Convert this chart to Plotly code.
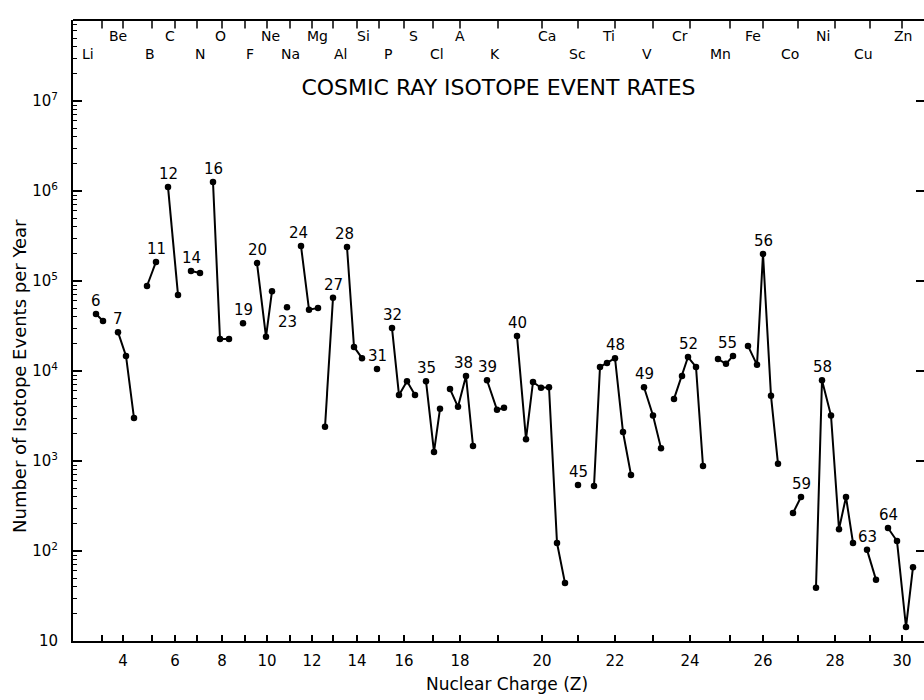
import math
import plotly.graph_objects as go

# ---- isotope axis: position of each element (Z = 3 ... 30) along the horizontal axis
z_values = list(range(3, 31))
z_tick_pos = [29, 50, 79, 102, 124, 149, 172, 194, 217, 239, 260, 284, 306, 331,
              360, 387, 425, 469, 505, 542, 580, 617, 657, 690, 725, 762, 797, 829]
element_symbols = ["Li", "Be", "B", "C", "N", "O", "F", "Ne", "Na", "Mg", "Al", "Si", "P", "S",
                   "Cl", "A", "K", "Ca", "Sc", "Ti", "V", "Cr", "Mn", "Fe", "Co", "Ni", "Cu", "Zn"]
element_label_pos = [15, 45, 77, 97, 127, 147, 177, 197, 217, 244, 267, 290, 315, 340,
                     364, 387, 422, 474, 504, 535, 574, 607, 647, 680, 717, 750, 790, 830]

# ---- isotope positions and yearly event rates, one list per element
iso_pos = [
    [23, 30],                              # Li
    [45, 53, 61],                          # Be
    [74, 83],                              # B
    [95, 105],                             # C
    [118, 127],                            # N
    [140, 147, 156],                       # O
    [170],                                 # F
    [184, 193, 199],                       # Ne
    [214],                                 # Na
    [228, 236, 245],                       # Mg
    [252, 260],                            # Al
    [274, 281, 289],                       # Si
    [304],                                 # P
    [319, 326, 334, 342],                  # S
    [353, 361, 367],                       # Cl
    [377, 385, 393, 400],                  # A
    [414, 424, 431],                       # K
    [444, 453, 460, 468, 476, 484, 492],   # Ca
    [505],                                 # Sc
    [521, 527, 534, 542, 550, 558],        # Ti
    [571, 580, 588],                       # V
    [601, 609, 615, 623, 630],             # Cr
    [645, 653, 660],                       # Mn
    [675, 684, 690, 698, 705],             # Fe
    [720, 728],                            # Co
    [743, 749, 758, 766, 773, 780],        # Ni
    [794, 803],                            # Cu
    [815, 824, 833, 840],                  # Zn
]
iso_rate = [
    [4.3e4, 3.6e4],
    [2.7e4, 1.47e4, 3.0e3],
    [8.8e4, 1.63e5],
    [1.11e6, 7.0e4],
    [1.29e5, 1.23e5],
    [1.26e6, 2.27e4, 2.27e4],
    [3.4e4],
    [1.58e5, 2.4e4, 7.7e4],
    [5.1e4],
    [2.45e5, 4.8e4, 5.0e4],
    [2.4e3, 6.5e4],
    [2.39e5, 1.85e4, 1.39e4],
    [1.05e4],
    [3.0e4, 5.4e3, 7.7e3, 5.4e3],
    [7.7e3, 1.26e3, 3.8e3],
    [6.3e3, 4.0e3, 8.8e3, 1.47e3],
    [7.9e3, 3.7e3, 3.9e3],
    [2.45e4, 1.75e3, 7.55e3, 6.5e3, 6.6e3, 123, 44],
    [540],
    [528, 1.11e4, 1.23e4, 1.39e4, 2.1e3, 700],
    [6.6e3, 3.2e3, 1.39e3],
    [4.9e3, 8.8e3, 1.43e4, 1.11e4, 880],
    [1.36e4, 1.2e4, 1.47e4],
    [1.9e4, 1.17e4, 2.0e5, 5.3e3, 930],
    [264, 398],
    [39, 7.9e3, 3.2e3, 175, 398, 123],
    [103, 48],
    [180, 129, 14.3, 66],
]
# mass number written beside one isotope of each element, and which point it marks
mass_labels = ["6", "7", "11", "12", "14", "16", "19", "20", "23", "24", "27", "28", "31", "32",
               "35", "38", "39", "40", "45", "48", "49", "52", "55", "56", "59", "58", "63", "64"]
mass_label_point = [0, 0, 1, 0, 0, 0, 0, 0, 0, 0, 1, 0, 0, 0,
                    0, 2, 0, 0, 0, 3, 0, 2, 2, 2, 1, 1, 0, 0]

y_tick_vals = [1e1, 1e2, 1e3, 1e4, 1e5, 1e6, 1e7]
y_tick_text = ["10", "10<sup>2</sup>", "10<sup>3</sup>", "10<sup>4</sup>",
               "10<sup>5</sup>", "10<sup>6</sup>", "10<sup>7</sup>"]

FONT = "DejaVu Sans"
INK = "black"
X_RANGE = [0, 851]
Y_RANGE = [1, 7.9]

even_pos = [p for z, p in zip(z_values, z_tick_pos) if z % 2 == 0]
even_txt = [str(z) for z in z_values if z % 2 == 0]
odd_pos = [p for z, p in zip(z_values, z_tick_pos) if z % 2 == 1]

fig = go.Figure()

for pos, rate in zip(iso_pos, iso_rate):
    fig.add_trace(go.Scatter(
        x=pos, y=rate, mode="lines+markers",
        line=dict(color=INK, width=2),
        marker=dict(color=INK, size=6.5),
        showlegend=False, hoverinfo="x+y",
    ))

# element tick marks hanging from the top frame: vertical-line markers sitting on
# the upper edge of the axis range, their upper half clipped away by the frame
fig.add_trace(go.Scatter(
    x=z_tick_pos, y=[10 ** Y_RANGE[1]] * len(z_tick_pos), mode="markers",
    marker=dict(symbol="line-ns", size=12, line=dict(color=INK, width=1.5)),
    cliponaxis=True, showlegend=False, hoverinfo="skip",
))

# empty trace so that the right-hand tick axis is laid out
fig.add_trace(go.Scatter(x=[], y=[], yaxis="y2", showlegend=False, hoverinfo="skip"))

annotations = []

# mass-number labels above (or below) the isotope they name
for el, (text, idx) in enumerate(zip(mass_labels, mass_label_point)):
    xs, ys = 0, 13
    sym = element_symbols[el]
    if sym == "Na":
        ys = -15
    elif sym == "Mn":
        xs = -6
    elif sym in ("Mg", "Si", "A"):
        xs = -3
    annotations.append(dict(
        x=iso_pos[el][idx], y=math.log10(iso_rate[el][idx]),
        xref="x", yref="y", text=text, showarrow=False,
        xshift=xs, yshift=ys,
        font=dict(family=FONT, size=15, color=INK),
    ))

# element symbols along the top, even Z on the upper row
for z, sym, pos in zip(z_values, element_symbols, element_label_pos):
    annotations.append(dict(
        x=pos, y=0.975 if z % 2 == 0 else 0.945,
        xref="x", yref="paper", text=sym, showarrow=False,
        xanchor="center", yanchor="middle",
        font=dict(family=FONT, size=14, color=INK),
    ))

# axis titles
annotations.append(dict(
    x=434, y=-0.0692, xref="x", yref="paper", text="Nuclear Charge (Z)",
    showarrow=False, xanchor="center", yanchor="middle",
    font=dict(family=FONT, size=17, color=INK),
))
annotations.append(dict(
    x=-0.0635, y=0.4267, xref="paper", yref="paper",
    text="Number of Isotope Events per Year", textangle=-90,
    showarrow=False, xanchor="center", yanchor="middle",
    font=dict(family=FONT, size=18, color=INK),
))

fig.update_layout(
    width=924, height=700,
    margin=dict(l=73, r=0, t=20, b=59),
    paper_bgcolor="white", plot_bgcolor="white",
    title=dict(
        text="COSMIC RAY ISOTOPE EVENT RATES",
        x=0.5, xref="paper", y=0.892, yref="paper",
        xanchor="center", yanchor="middle",
        font=dict(family=FONT, size=22, color=INK),
    ),
    xaxis=dict(
        type="linear", range=X_RANGE, showgrid=False, zeroline=False,
        showline=True, linecolor=INK, linewidth=2,
        tickvals=even_pos, ticktext=even_txt,
        ticks="inside", ticklen=6, tickwidth=1.5, tickcolor=INK,
        ticklabelstandoff=5,
        tickfont=dict(family=FONT, size=15, color=INK),
        minor=dict(tickvals=odd_pos, ticks="inside", ticklen=6,
                   tickwidth=1.5, tickcolor=INK, showgrid=False),
    ),
    yaxis=dict(
        type="log", range=Y_RANGE, showgrid=False, zeroline=False,
        showline=True, linecolor=INK, linewidth=2,
        tickvals=y_tick_vals, ticktext=y_tick_text,
        ticks="inside", ticklen=9, tickwidth=1.5, tickcolor=INK,
        ticklabelstandoff=10,
        tickfont=dict(family=FONT, size=15, color=INK),
        minor=dict(
            tickvals=[k * 10 ** d for d in range(1, 8) for k in range(2, 10)],
            ticks="inside", ticklen=4, tickwidth=1, tickcolor=INK, showgrid=False,
        ),
    ),
    yaxis2=dict(
        type="log", range=Y_RANGE, overlaying="y", side="right", anchor="x",
        showgrid=False, zeroline=False, showline=False,
        tickvals=y_tick_vals, showticklabels=False,
        ticks="inside", ticklen=8, tickwidth=1.5, tickcolor=INK,
    ),
    # top edge of the frame
    shapes=[dict(type="line", xref="paper", yref="paper", x0=0, x1=1, y0=1, y1=1,
                 line=dict(color=INK, width=2), layer="above")],
    annotations=annotations,
)

fig.write_html("out.html", config={"displayModeBar": False})
